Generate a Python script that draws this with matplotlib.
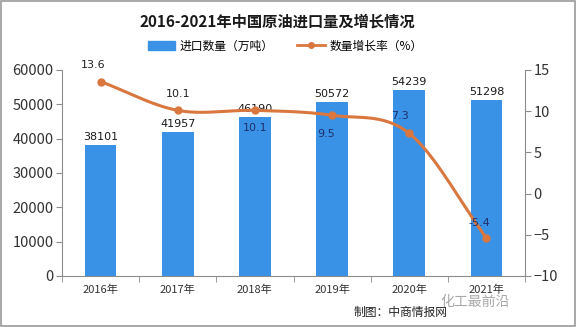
import numpy as np
import matplotlib
matplotlib.use("Agg")
import matplotlib.pyplot as plt
from matplotlib.lines import Line2D
from matplotlib.patches import Patch, Rectangle

plt.rcParams['font.family'] = ['Noto Sans CJK SC', 'DejaVu Sans']

years = ['2016年', '2017年', '2018年', '2019年', '2020年', '2021年']
imports = [38101, 41957, 46190, 50572, 54239, 51298]
growth = [13.6, 10.1, 10.1, 9.5, 7.3, -5.4]

BAR = '#3a92e6'
LINE = '#d9773f'
AX = '#8c8c8c'


def catmull_rom(xs, ys, n=30):
    """Smooth curve through the given points (drawing only)."""
    xs = np.asarray(xs, float)
    ys = np.asarray(ys, float)
    px = np.concatenate([[2 * xs[0] - xs[1]], xs, [2 * xs[-1] - xs[-2]]])
    py = np.concatenate([[2 * ys[0] - ys[1]], ys, [2 * ys[-1] - ys[-2]]])
    out_x, out_y = [], []
    for i in range(1, len(px) - 2):
        t = np.linspace(0, 1, n, endpoint=False)
        for p, out in ((px, out_x), (py, out_y)):
            p0, p1, p2, p3 = p[i - 1], p[i], p[i + 1], p[i + 2]
            out.extend(0.5 * ((2 * p1) + (-p0 + p2) * t
                              + (2 * p0 - 5 * p1 + 4 * p2 - p3) * t ** 2
                              + (-p0 + 3 * p1 - 3 * p2 + p3) * t ** 3))
    out_x.append(xs[-1])
    out_y.append(ys[-1])
    return np.array(out_x), np.array(out_y)


fig = plt.figure(figsize=(5.76, 3.27), dpi=100)
ax = fig.add_axes([0.1076, 0.156, 0.8039, 0.630])
x = np.arange(len(years))

ax.bar(x, imports, width=0.41, color=BAR, zorder=2)
for xi, v in zip(x, imports):
    ax.text(xi, v + 900, str(v), ha='center', va='bottom', fontsize=8,
            color='#1a1a1a', family='DejaVu Sans')

ax.set_xlim(-0.5, len(years) - 0.5)
ax.set_ylim(0, 60000)
ax.set_yticks(np.arange(0, 60001, 10000))
ax.set_xticks(x)
ax.set_xticklabels(years, fontsize=8, color='#333333')
ax.set_xticks(np.arange(-0.5, len(years), 1), minor=True)
ax.tick_params(axis='x', which='major', length=0, pad=6)
ax.tick_params(axis='x', which='minor', length=4, color=AX, direction='out')
ax.tick_params(axis='y', length=4, color=AX, labelsize=10.5, labelcolor='#333333',
               direction='out', pad=2)
for side in ('top', 'right'):
    ax.spines[side].set_visible(False)
for side in ('left', 'bottom'):
    ax.spines[side].set_color(AX)

ax2 = ax.twinx()
ax2.set_ylim(-10, 15)
ax2.set_yticks(np.arange(-10, 16, 5))
ax2.tick_params(axis='y', length=4, color=AX, labelsize=10.5, labelcolor='#333333',
                direction='out', pad=2)
for side in ('top', 'left', 'bottom'):
    ax2.spines[side].set_visible(False)
ax2.spines['right'].set_color(AX)

sx, sy = catmull_rom(x, growth)
ax2.plot(sx, sy, color=LINE, lw=2.2, zorder=3, solid_capstyle='round')
ax2.plot(x, growth, 'o', color=LINE, ms=5, zorder=4)

# growth labels: (dx, dy in points, colour)
offsets = [(-5, 8, '#222222'), (0, 8, '#222222'), (0, -16, '#1f2f6b'),
           (-4, -17, '#1f2f6b'), (-7, 9, '#1f2f6b'), (-5, 7, '#1f2f6b')]
for xi, v, (dx, dy, c) in zip(x, growth, offsets):
    ax2.annotate(f'{v}', (xi, v), xytext=(dx, dy), textcoords='offset points',
                 ha='center', va='bottom', fontsize=8,
                 color=c, family='DejaVu Sans')

fig.text(0.482, 0.935, '2016-2021年中国原油进口量及增长情况', ha='center',
         va='center', fontsize=11, fontweight='bold', color='#1a1a1a')

handles = [Patch(color=BAR, label='进口数量（万吨）'),
           Line2D([], [], color=LINE, lw=2, marker='o', ms=4, label='数量增长率（%）')]
fig.legend(handles=handles, loc='center', bbox_to_anchor=(0.495, 0.859), ncol=2,
           frameon=False, fontsize=8.5, handlelength=2.3, handleheight=0.7,
           columnspacing=2.0, handletextpad=0.4)

fig.text(0.695, 0.045, '制图：中商情报网', ha='center', va='center', fontsize=8.5,
         color='#222222')
fig.text(0.825, 0.077, '化工最前沿', ha='center', va='center', fontsize=10,
         color='#a8a8a8')

fig.patches.append(Rectangle((0.001, 0.002), 0.997, 0.995, transform=fig.transFigure,
                             fill=False, edgecolor='#9a9a9a', lw=1.2))

fig.savefig('out.png', dpi=100)
